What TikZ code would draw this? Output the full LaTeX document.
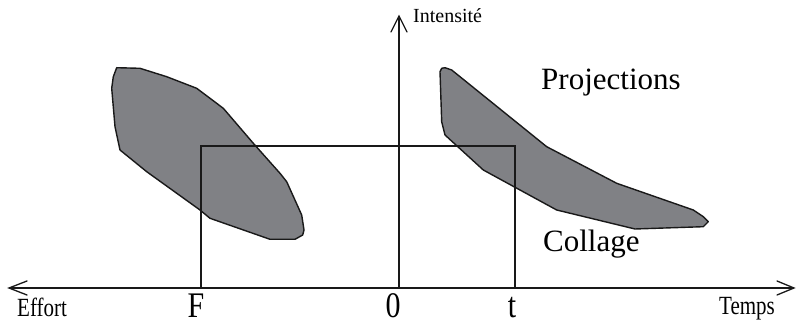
\documentclass[tikz,border=0pt]{standalone}
\usepackage{fontspec}
\setmainfont{Liberation Serif}
\usepackage{graphicx}
\begin{document}
\begin{tikzpicture}[x=1pt,y=-1pt,
  ln/.style={line width=1.3pt,draw=black!90},
  blob/.style={line width=1.4pt,draw=black!90,fill={rgb,255:red,128;green,129;blue,133},line join=round},
  tip/.style={line width=1.3pt,draw=black!90,line cap=round,line join=miter},
  lbl/.style={inner sep=0pt,anchor=base west}]
\useasboundingbox (0,0) rectangle (796,323);
% blobs
\draw[blob] (116.7,67.7) -- (140,68.3) -- (166.7,76.7) -- (196.7,88.3) -- (223.3,108.3) -- (253.3,143.3) -- (280,173.3) -- (286.7,181.7) -- (301.7,215) -- (304,230) -- (302.7,235) -- (295,239.3) -- (270,239.3) -- (210,218.3) -- (200,210) -- (146.7,171.7) -- (120,150) -- (115,126.7) -- (111.7,88.3) -- (113.3,76.7) -- cycle;
\draw[blob] (441.7,68.3) -- (445,67.7) -- (451.7,70) -- (546.7,146.7) -- (616.7,183.3) -- (693.3,210) -- (703.3,216.7) -- (708.3,221.7) -- (703.3,226.7) -- (635,229) -- (556.7,210) -- (483.3,170) -- (445,135) -- (441.7,121.7) -- (440,71.7) -- cycle;
% axes
\coordinate (o) at (399,288);
\coordinate (xl) at (9,288);
\coordinate (xr) at (794,288);
\coordinate (yt) at (399,16);
\draw[ln] (xl) -- (xr);
\draw[ln] (o) -- (yt);
\draw[tip] (27,281) -- (xl) -- (27,295);
\draw[tip] (777,281) -- (xr) -- (777,295);
\draw[tip] (391,32) -- (yt) -- (407,32);
% rectangle
\coordinate (F) at (201,288);
\coordinate (T) at (515,288);
\draw[ln] (F) |- (515,146) -- (T);
% labels
\node[lbl,font=\fontsize{20}{20}\selectfont] (int) at (413,23) {Intensité};
\node[lbl,font=\fontsize{31}{31}\selectfont] (proj) at (541,90) {Projections};
\node[lbl,font=\fontsize{31}{31}\selectfont] (col) at (543,252) {Collage};
\node[lbl,font=\fontsize{21}{21}\selectfont] (eff) at (17,317) {\scalebox{1}[1.25]{Effort}};
\node[lbl,font=\fontsize{21}{21}\selectfont] (tmp) at (719,314.5) {\scalebox{1}[1.25]{Temps}};
\node[inner sep=0pt,anchor=base,font=\fontsize{30}{30}\selectfont] (lF) at (196,318) {\scalebox{1}[1.2]{F}};
\node[inner sep=0pt,anchor=base,font=\fontsize{30}{30}\selectfont] (l0) at (393,318) {\scalebox{1}[1.2]{0}};
\node[inner sep=0pt,anchor=base,font=\fontsize{30}{30}\selectfont] (lt) at (512,318) {\scalebox{1}[1.2]{t}};
\end{tikzpicture}
\end{document}
